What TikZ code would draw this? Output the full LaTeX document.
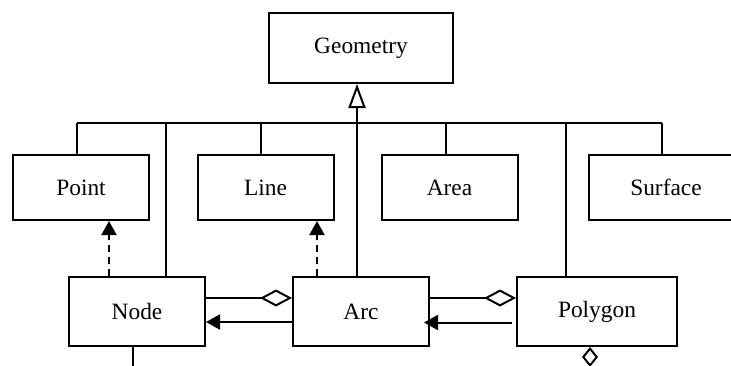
\documentclass[tikz,border=0pt]{standalone}
\usepackage{fontspec}
\setmainfont{Liberation Serif}
\usetikzlibrary{arrows.meta}

\begin{document}
\begin{tikzpicture}[x=0.5pt, y=-0.5pt, line width=1pt,
    cls/.style={draw, rectangle, inner sep=0pt, minimum width=68pt, font=\fontsize{11.7}{14}\selectfont},
    inherit/.style={-{Triangle[open, length=12pt, width=8.5pt]}},
    aggr/.style={-{Diamond[open, length=16pt, width=8.5pt]}},
    nav/.style={-{Triangle[length=7pt, width=7.5pt]}},
    dep/.style={nav, dash pattern=on 3.5pt off 2.5pt}]
\clip (0,0) rectangle (731,365);

\begin{scope}[every node/.append style={minimum height=32.5pt}]
    \node[cls, minimum width=92pt, minimum height=35pt] (geometry) at (361,48) {Geometry};
    \node[cls] (point) at (81,187.5) {Point};
    \node[cls] (line) at (265.5,187.5) {Line};
    \node[cls] (area) at (449.5,187.5) {Area};
    \node[cls, minimum width=77pt] (surface) at (666,187.5) {Surface};
\end{scope}
\begin{scope}[every node/.append style={minimum height=34.5pt}]
    \node[cls] (node) at (137,311.5) {Node};
    \node[cls] (arc) at (361,311.5) {Arc};
    \node[cls, minimum width=80pt] (polygon) at (597,311.5) {Polygon};
\end{scope}

% bus of the generalisation
\coordinate (tPoint) at (77,123);
\coordinate (tLine) at (261,123);
\coordinate (tArea) at (446,123);
\coordinate (tSurface) at (662,123);
\coordinate (nodeEnd) at (133,366);
\coordinate (polyEnd) at (590,364);

\draw (tPoint) -- (tSurface);
\draw (tPoint) -- (tPoint |- point.north);
\draw (tLine) -- (tLine |- line.north);
\draw (tArea) -- (tArea |- area.north);
\draw (tSurface) -- (tSurface |- surface.north);
\draw ([xshift=14.5pt]node.north) -- ([xshift=14.5pt]node.north |- tPoint);
\draw ([xshift=-15.5pt]polygon.north) -- ([xshift=-15.5pt]polygon.north |- tPoint);
\draw[inherit] ([xshift=-2pt]arc.north) -- ([xshift=-2pt]arc.north |- geometry.south);

% realisations
\draw[dep] ([xshift=-14pt]node.north) -- ([xshift=-14pt]node.north |- point.south);
\draw[dep] ([xshift=-22pt]arc.north) -- ([xshift=-22pt]arc.north |- line.south);

% associations
\draw[aggr] ([yshift=6.75pt]node.east) -- ([yshift=6.75pt]node.east -| arc.west);
\draw[aggr] ([yshift=6.75pt]arc.east) -- ([yshift=6.75pt]arc.east -| polygon.west);
\draw[nav] ([yshift=-5.25pt]arc.west) -- ([yshift=-5.25pt]arc.west -| node.east);
\draw[nav] ([yshift=-5.5pt, xshift=-2pt]polygon.west) -- ([yshift=-5.5pt, xshift=-3pt]polygon.west -| arc.east);
\draw ([xshift=-2pt]node.south) -- (nodeEnd);
\draw[-{Diamond[open, length=10pt, width=8pt]}] (polyEnd) -- (polyEnd |- polygon.south);
\end{tikzpicture}
\end{document}
